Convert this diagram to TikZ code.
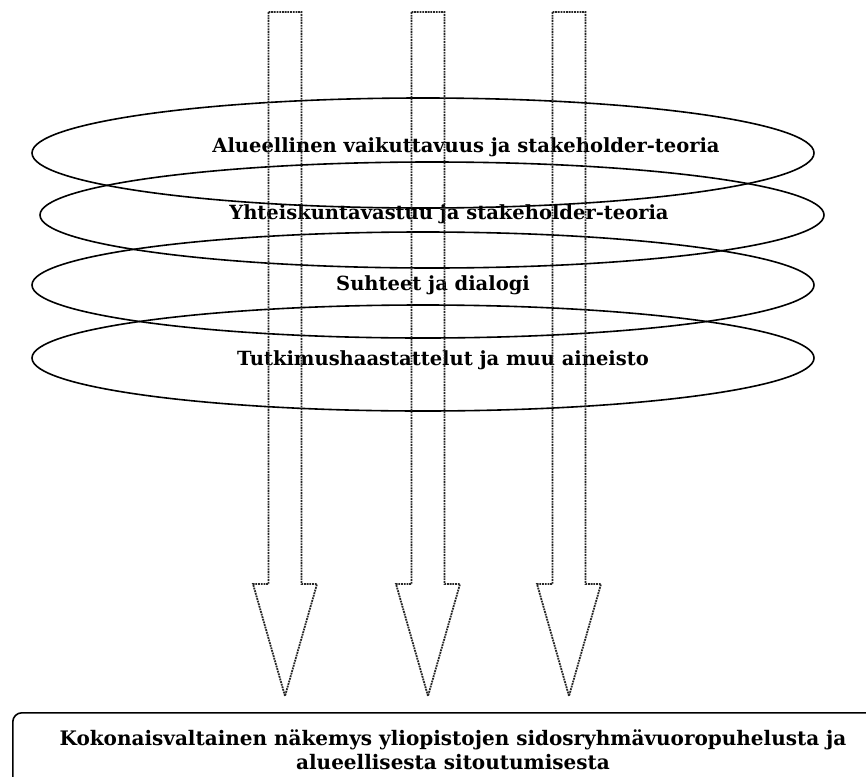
\documentclass[tikz,border=0pt]{standalone}
\usepackage{fontspec}
\setmainfont{DejaVu Serif}
\usetikzlibrary{shapes.geometric}
\begin{document}
\begin{tikzpicture}[x=1pt,y=-1pt,
  ring/.style={draw=black, line width=1.6pt, ellipse, inner sep=0pt,
    minimum width=782pt, minimum height=106pt},
  lbl/.style={font=\bfseries\fontsize{19.5}{23}\selectfont, inner sep=0pt},
  flow/.style={draw=black!85, line width=1.8pt, dash pattern=on 1.8pt off 0.9pt},
  pics/downarrow/.style={code={
    \draw[flow] (-16.5,0) -- (16.5,0) -- (16.5,572) -- (32,572)
      -- (0,684) -- (-32,572) -- (-16.5,572) -- cycle;}}
]
\useasboundingbox (0,0) rectangle (866,776);

% stacked themes
\node[ring, minimum height=110pt] (e1) at (423,153) {};
\node[ring, minimum width=784pt] (e2) at (432,215) {};
\node[ring] (e3) at (423,285) {};
\node[ring] (e4) at (423,358) {};

\node[lbl] (t1) at (466,147) {Alueellinen vaikuttavuus ja stakeholder-teoria};
\node[lbl] (t2) at (449,214) {Yhteiskuntavastuu ja stakeholder-teoria};
\node[lbl] (t3) at (433,285) {Suhteet ja dialogi};
\node[lbl] (t4) at (443,360) {Tutkimushaastattelut ja muu aineisto};

% three flows through the themes
\pic at (285,12) {downarrow};
\pic at (428,12) {downarrow};
\pic at (569,12) {downarrow};

% outcome box, running off the lower right edge
\begin{scope}
  \clip (0,0) rectangle (866,776);
  \node[draw=black, line width=1.6pt, rounded corners=9pt, anchor=north west,
    minimum width=890pt, minimum height=78pt, inner sep=0pt] (res) at (12,712) {};
  \node[lbl, font=\bfseries\fontsize{20}{24}\selectfont, align=center] (rtext) at (453,750)
    {Kokonaisvaltainen näkemys yliopistojen sidosryhmävuoropuhelusta ja\\
     alueellisesta sitoutumisesta};
\end{scope}
\end{tikzpicture}
\end{document}
